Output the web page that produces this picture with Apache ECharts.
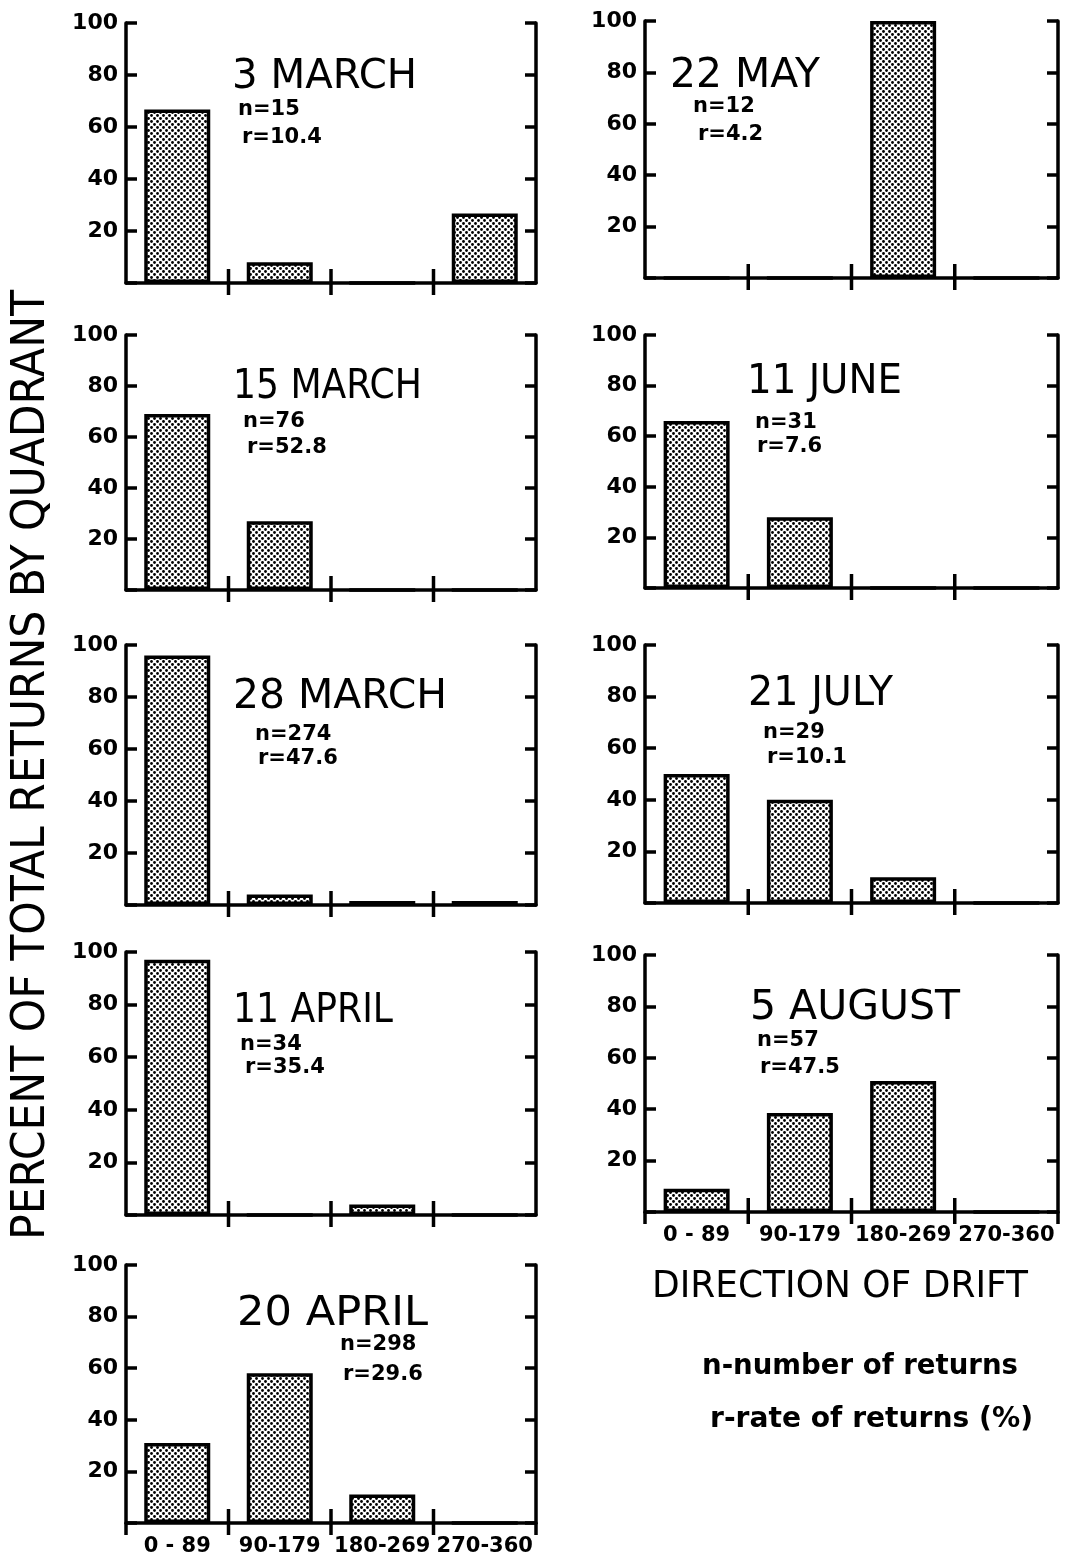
<!DOCTYPE html>
<html>
<head>
<meta charset="utf-8">
<script src="https://cdn.jsdelivr.net/npm/echarts@6/dist/echarts.min.js"></script>
<style>
  html, body { margin: 0; padding: 0; background: #fff; }
  #chart { width: 1066px; height: 1559px; }
</style>
</head>
<body>
<div id="chart"></div>
<script>
// Quadrants of drift direction (degrees), their boundaries, and the percent axis ticks
const quadrants = ['0 - 89', '90-179', '180-269', '270-360'];
const quadrantBounds = [0, 90, 180, 270, 360];
const percentTicks = [20, 40, 60, 80, 100];

// Release dates with number of returns (n) and rate of returns (r, %)
const releaseDates = ['3 MARCH', '15 MARCH', '28 MARCH', '11 APRIL', '20 APRIL',
                      '22 MAY', '11 JUNE', '21 JULY', '5 AUGUST'];
const nReturns = ['15', '76', '274', '34', '298', '12', '31', '29', '57'];
const rReturns = ['10.4', '52.8', '47.6', '35.4', '29.6', '4.2', '7.6', '10.1', '47.5'];

// Percent of total returns in each quadrant, one list per release
const pct3Mar  = [66.7, 8, 0, 26.7];
const pct15Mar = [69, 27, 0, 0];
const pct28Mar = [96, 4, 1.5, 1.5];
const pct11Apr = [97.1, 0, 4, 0];
const pct20Apr = [31, 58, 11, 0];
const pct22May = [0, 0, 100, 0];
const pct11Jun = [66, 28, 0, 0];
const pct21Jul = [50, 40, 10, 0];
const pct5Aug  = [9, 38.5, 51, 0];

const percentSeries = [pct3Mar, pct15Mar, pct28Mar, pct11Apr, pct20Apr,
                       pct22May, pct11Jun, pct21Jul, pct5Aug];

// ---- layout (pixel boxes for each small panel and its annotations) ----
const COL_L = { left: 126, width: 410 };
const COL_R = { left: 645, width: 413 };
const layout = [
  { col: COL_L, top: 23,   base: 283,  title: [232, 77.5, 185], n: [238, 110],  r: [242, 138],  labels: false },
  { col: COL_L, top: 335,  base: 590,  title: [233, 388, 189],  n: [243, 422],  r: [247, 448],  labels: false },
  { col: COL_L, top: 645,  base: 905,  title: [233, 697.5, 214], n: [255, 735], r: [258, 759],  labels: false },
  { col: COL_L, top: 952,  base: 1215, title: [233, 1012, 160], n: [240, 1045], r: [245, 1068], labels: false },
  { col: COL_L, top: 1265, base: 1523, title: [237, 1315, 191], n: [340, 1345], r: [343, 1375], labels: true },
  { col: COL_R, top: 21,   base: 278,  title: [670, 77, 150],   n: [693, 107],  r: [698, 135],  labels: false },
  { col: COL_R, top: 335,  base: 588,  title: [747, 383, 155],  n: [755, 423],  r: [757, 447],  labels: false },
  { col: COL_R, top: 645,  base: 903,  title: [748, 695, 145],  n: [763, 733],  r: [767, 758],  labels: false },
  { col: COL_R, top: 955,  base: 1212, title: [750, 1009, 210], n: [757, 1041], r: [760, 1068], labels: true }
];

const INK = '#000';
const AXIS_W = 3.5;
const TICK_UP = 14, TICK_DOWN = 12;
const TITLE_FONT = "40px 'DejaVu Sans'";
const NR_FONT = "bold 21px 'DejaVu Sans'";
const TICK_FONT_FAMILY = 'DejaVu Sans';

// stippled fill used for every bar
function makeDotTile() {
  const c = document.createElement('canvas');
  c.width = 6; c.height = 6;
  const g = c.getContext('2d');
  g.fillStyle = '#fff';
  g.fillRect(0, 0, 6, 6);
  g.fillStyle = INK;
  [[1.5, 1.5], [4.5, 4.5]].forEach(([x, y]) => {
    g.beginPath(); g.arc(x, y, 1.4, 0, Math.PI * 2); g.fill();
  });
  return c;
}
const dotFill = { image: makeDotTile(), repeat: 'repeat' };

// horizontal squeeze so a lettered string spans a given width
const measureCtx = document.createElement('canvas').getContext('2d');
function squeeze(str, font, targetWidth) {
  measureCtx.font = font;
  return targetWidth / measureCtx.measureText(str).width;
}
function letteredText(str, font, x, y, width) {
  return {
    type: 'text', x: x, y: y,
    scaleX: width ? squeeze(str, font, width) : 1,
    style: { text: str, font: font, fill: INK, textAlign: 'left', textVerticalAlign: 'middle' },
    silent: true
  };
}

// quadrant-boundary tick: drawn at the edge between category bands.
// Interior edges cross the baseline; the two outer edges only drop below it.
const lastBound = quadrantBounds.length - 1;
function renderBoundaryTick(params, api) {
  const k = api.value(0);
  const band = api.size([1, 0])[0];
  const inner = k > 0 && k < lastBound;
  const cat = Math.min(k, lastBound - 1);
  const pt = api.coord([cat, 0]);
  const x = k < lastBound ? pt[0] - band / 2 : pt[0] + band / 2;
  return {
    type: 'line',
    shape: { x1: x, y1: pt[1] - (inner ? TICK_UP : 0), x2: x, y2: pt[1] + TICK_DOWN },
    style: { stroke: INK, lineWidth: AXIS_W }
  };
}

const grid = [], xAxis = [], yAxis = [], series = [], graphic = [];

layout.forEach((p, i) => {
  grid.push({ left: p.col.left, width: p.col.width, top: p.top, height: p.base - p.top });

  // baseline + quadrant labels
  xAxis.push({
    type: 'category', gridIndex: i, position: 'bottom', data: quadrants,
    axisLine: { show: true, onZero: false, lineStyle: { color: INK, width: AXIS_W } },
    axisTick: { show: false },
    axisLabel: { show: p.labels, interval: 0, color: INK, fontSize: 21, fontWeight: 'bold',
                 fontFamily: TICK_FONT_FAMILY, margin: 13 },
    splitLine: { show: false }
  });

  const yCommon = {
    type: 'value', gridIndex: i, min: 0, max: 100, interval: 20,
    axisTick: { show: true, inside: true, length: 11, lineStyle: { color: INK, width: AXIS_W } },
    splitLine: { show: false }
  };
  yAxis.push(Object.assign({}, yCommon, {
    position: 'left',
    axisLine: { show: true, onZero: false, lineStyle: { color: INK, width: AXIS_W } },
    axisLabel: {
      color: INK, fontSize: 22, fontWeight: 'bold', fontFamily: TICK_FONT_FAMILY, margin: 8,
      formatter: v => (percentTicks.indexOf(v) >= 0 ? String(v) : '')
    }
  }));
  yAxis.push(Object.assign({}, yCommon, {
    position: 'right',
    axisLine: { show: true, onZero: false, lineStyle: { color: INK, width: AXIS_W } },
    axisLabel: { show: false }
  }));

  series.push({
    type: 'bar', name: releaseDates[i],
    xAxisIndex: i, yAxisIndex: 2 * i,
    data: percentSeries[i],
    barWidth: 66,
    itemStyle: { color: dotFill, borderColor: INK, borderWidth: 3.5 },
    silent: true
  });

  // boundary ticks: outer ends only on panels that carry quadrant labels
  const bounds = quadrantBounds.map((d, k) => k)
    .filter(k => p.labels || (k > 0 && k < lastBound));
  series.push({
    type: 'custom', name: releaseDates[i] + ' bounds',
    xAxisIndex: i, yAxisIndex: 2 * i,
    data: bounds.map(k => [k]),
    encode: { x: -1, y: -1 },
    renderItem: renderBoundaryTick,
    clip: false, silent: true, z: 3
  });

  graphic.push(letteredText(releaseDates[i], TITLE_FONT, p.title[0], p.title[1], p.title[2]));
  graphic.push(letteredText('n=' + nReturns[i], NR_FONT, p.n[0], p.n[1]));
  graphic.push(letteredText('r=' + rReturns[i], NR_FONT, p.r[0], p.r[1]));
});

// shared axis titles and key
const Y_TITLE = 'PERCENT OF TOTAL RETURNS BY QUADRANT';
const Y_TITLE_FONT = "46px 'Liberation Sans Narrow', 'DejaVu Sans Condensed', 'DejaVu Sans'";
graphic.push({
  type: 'text', x: 32, y: 765, rotation: Math.PI / 2,
  scaleX: squeeze(Y_TITLE, Y_TITLE_FONT, 950),
  style: { text: Y_TITLE, font: Y_TITLE_FONT, fill: INK, textAlign: 'center', textVerticalAlign: 'middle' },
  silent: true
});
graphic.push(letteredText('DIRECTION OF DRIFT', "37px 'DejaVu Sans'", 652, 1287, 376));
graphic.push(letteredText('n-number of returns', "bold 28px 'DejaVu Sans'", 702, 1367, 316));
graphic.push(letteredText('r-rate of returns (%)', "bold 28px 'DejaVu Sans'", 710, 1420, 323));

const chart = echarts.init(document.getElementById('chart'), null, { renderer: 'canvas' });
chart.setOption({
  backgroundColor: '#fff',
  animation: false,
  grid: grid,
  xAxis: xAxis,
  yAxis: yAxis,
  series: series,
  graphic: graphic
});
</script>
</body>
</html>
